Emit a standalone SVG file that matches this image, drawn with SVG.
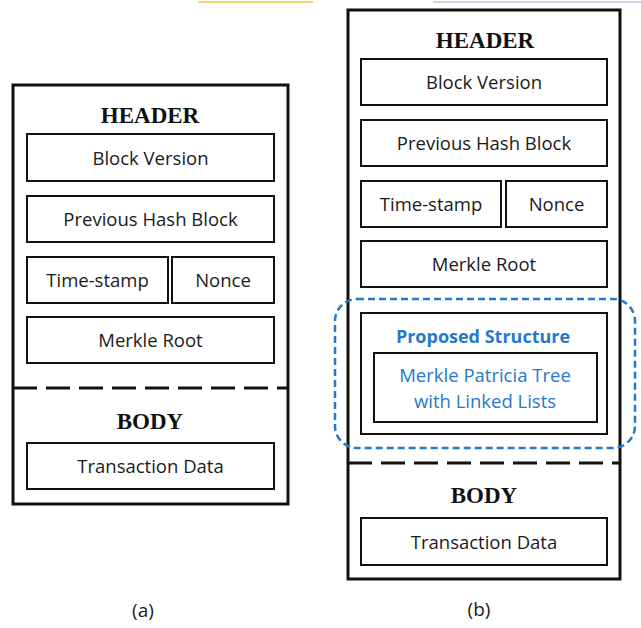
<svg xmlns="http://www.w3.org/2000/svg" width="641" height="628" viewBox="0 0 641 628">
  <style>
    .outer { fill: none; stroke: #111; stroke-width: 3; }
    .field { fill: #fff; stroke: #111; stroke-width: 2; }
    .sep { stroke: #111; stroke-width: 3; stroke-dasharray: 24 9; fill: none; }
    .title { font-family: "Liberation Serif", "Times New Roman", serif; font-weight: bold; font-size: 23px; fill: #111; text-anchor: middle; }
    .lbl { font-family: "Open Sans", "Noto Sans", sans-serif; font-size: 18.5px; fill: #1a1a1a; text-anchor: middle; }
    .blue { fill: #2679c9; }
    .bold { font-weight: bold; font-size: 18px; }
    .zone { fill: none; stroke: #2679c9; stroke-width: 2.5; stroke-dasharray: 7 4; }
    .cap { font-family: "Open Sans", "Noto Sans", sans-serif; font-size: 19px; fill: #1a1a1a; text-anchor: middle; }
  </style>

  <rect width="641" height="628" fill="#fff"/>

  <!-- thin rules along the top edge -->
  <line x1="198" y1="2" x2="313" y2="2" stroke="#f2c530" stroke-width="1.5"/>
  <line x1="433" y1="2" x2="641" y2="2" stroke="#9aabc8" stroke-width="1.2"/>

  <!-- (a) standard block -->
  <g id="block-a">
    <rect class="outer" x="13" y="85" width="275" height="419"/>
    <text class="title" x="150" y="123">HEADER</text>
    <g id="a-version">
      <rect class="field" x="27" y="134" width="247" height="47"/>
      <text class="lbl" x="150.5" y="164.5">Block Version</text>
    </g>
    <g id="a-prevhash">
      <rect class="field" x="27" y="196" width="247" height="46"/>
      <text class="lbl" x="150.5" y="226">Previous Hash Block</text>
    </g>
    <g id="a-timestamp">
      <rect class="field" x="27" y="257" width="141" height="46"/>
      <text class="lbl" x="97.5" y="287">Time-stamp</text>
    </g>
    <g id="a-nonce">
      <rect class="field" x="172" y="257" width="102" height="46"/>
      <text class="lbl" x="223" y="287">Nonce</text>
    </g>
    <g id="a-merkle">
      <rect class="field" x="27" y="317" width="247" height="46"/>
      <text class="lbl" x="150.5" y="347">Merkle Root</text>
    </g>
    <line class="sep" x1="13" y1="388" x2="288" y2="388"/>
    <text class="title" x="150" y="429">BODY</text>
    <g id="a-tx">
      <rect class="field" x="27" y="443" width="247" height="46"/>
      <text class="lbl" x="150.5" y="473">Transaction Data</text>
    </g>
    <text class="cap" x="143" y="617">(a)</text>
  </g>

  <!-- (b) block with the proposed structure -->
  <g id="block-b">
    <rect class="outer" x="348" y="10" width="272" height="569"/>
    <text class="title" x="485" y="48">HEADER</text>
    <g id="b-version">
      <rect class="field" x="361" y="59" width="246" height="46"/>
      <text class="lbl" x="484" y="89">Block Version</text>
    </g>
    <g id="b-prevhash">
      <rect class="field" x="361" y="120" width="246" height="46"/>
      <text class="lbl" x="484" y="150">Previous Hash Block</text>
    </g>
    <g id="b-timestamp">
      <rect class="field" x="361" y="181" width="140" height="46"/>
      <text class="lbl" x="431" y="211">Time-stamp</text>
    </g>
    <g id="b-nonce">
      <rect class="field" x="506" y="181" width="101" height="46"/>
      <text class="lbl" x="556.5" y="211">Nonce</text>
    </g>
    <g id="b-merkle">
      <rect class="field" x="361" y="241" width="246" height="46"/>
      <text class="lbl" x="484" y="271">Merkle Root</text>
    </g>
    <g id="b-proposed">
      <rect class="field" x="361" y="313" width="246" height="121"/>
      <text class="lbl blue bold" x="483" y="343">Proposed Structure</text>
      <rect class="field" x="374" y="353" width="223" height="69"/>
      <text class="lbl blue" x="485" y="382">Merkle Patricia Tree</text>
      <text class="lbl blue" x="485" y="408">with Linked Lists</text>
    </g>
    <rect id="b-zone" class="zone" x="335" y="299" width="300" height="149" rx="22" ry="22"/>
    <line class="sep" x1="348" y1="463" x2="620" y2="463"/>
    <text class="title" x="484" y="503">BODY</text>
    <g id="b-tx">
      <rect class="field" x="361" y="518" width="246" height="47"/>
      <text class="lbl" x="484" y="548.5">Transaction Data</text>
    </g>
    <text class="cap" x="479" y="616">(b)</text>
  </g>
</svg>
